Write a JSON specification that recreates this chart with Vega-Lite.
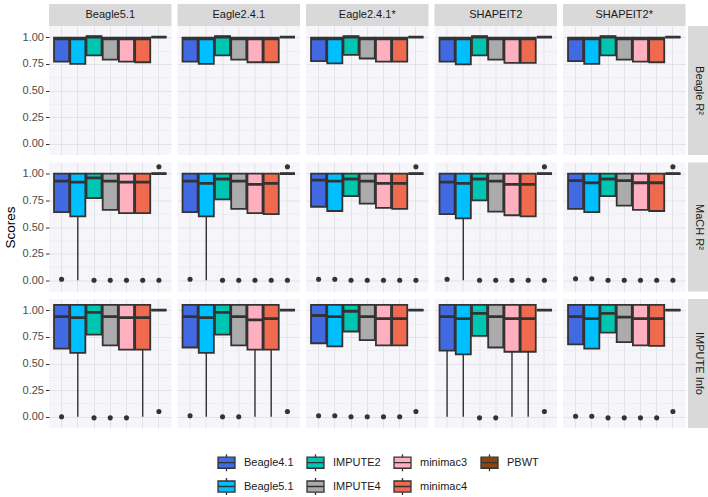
{
"$schema":"https://vega.github.io/schema/vega-lite/v6.json",
"padding":{"left":3,"top":4,"right":1,"bottom":2},
"background":"white",
"data":{"values":[
{"phasing":"Beagle5.1","metric":"Beagle R²","tool":"Beagle4.1","lo":0.77,"q1":0.77,"med":0.985,"q3":0.995,"hi":0.995},
{"phasing":"Beagle5.1","metric":"Beagle R²","tool":"Beagle5.1","lo":0.75,"q1":0.75,"med":0.985,"q3":0.995,"hi":0.995},
{"phasing":"Beagle5.1","metric":"Beagle R²","tool":"IMPUTE2","lo":0.83,"q1":0.83,"med":1.0,"q3":1.01,"hi":1.01},
{"phasing":"Beagle5.1","metric":"Beagle R²","tool":"IMPUTE4","lo":0.79,"q1":0.79,"med":0.985,"q3":0.995,"hi":0.995},
{"phasing":"Beagle5.1","metric":"Beagle R²","tool":"minimac3","lo":0.77,"q1":0.77,"med":0.985,"q3":0.995,"hi":0.995},
{"phasing":"Beagle5.1","metric":"Beagle R²","tool":"minimac4","lo":0.765,"q1":0.765,"med":0.985,"q3":0.995,"hi":0.995},
{"phasing":"Beagle5.1","metric":"Beagle R²","tool":"PBWT","lo":1,"q1":1,"med":1,"q3":1,"hi":1},
{"phasing":"Eagle2.4.1","metric":"Beagle R²","tool":"Beagle4.1","lo":0.77,"q1":0.77,"med":0.985,"q3":0.995,"hi":0.995},
{"phasing":"Eagle2.4.1","metric":"Beagle R²","tool":"Beagle5.1","lo":0.75,"q1":0.75,"med":0.985,"q3":0.995,"hi":0.995},
{"phasing":"Eagle2.4.1","metric":"Beagle R²","tool":"IMPUTE2","lo":0.83,"q1":0.83,"med":1.0,"q3":1.01,"hi":1.01},
{"phasing":"Eagle2.4.1","metric":"Beagle R²","tool":"IMPUTE4","lo":0.79,"q1":0.79,"med":0.985,"q3":0.995,"hi":0.995},
{"phasing":"Eagle2.4.1","metric":"Beagle R²","tool":"minimac3","lo":0.765,"q1":0.765,"med":0.985,"q3":0.995,"hi":0.995},
{"phasing":"Eagle2.4.1","metric":"Beagle R²","tool":"minimac4","lo":0.765,"q1":0.765,"med":0.985,"q3":0.995,"hi":0.995},
{"phasing":"Eagle2.4.1","metric":"Beagle R²","tool":"PBWT","lo":1,"q1":1,"med":1,"q3":1,"hi":1},
{"phasing":"Eagle2.4.1*","metric":"Beagle R²","tool":"Beagle4.1","lo":0.775,"q1":0.775,"med":0.985,"q3":0.995,"hi":0.995},
{"phasing":"Eagle2.4.1*","metric":"Beagle R²","tool":"Beagle5.1","lo":0.755,"q1":0.755,"med":0.985,"q3":0.995,"hi":0.995},
{"phasing":"Eagle2.4.1*","metric":"Beagle R²","tool":"IMPUTE2","lo":0.835,"q1":0.835,"med":1.0,"q3":1.01,"hi":1.01},
{"phasing":"Eagle2.4.1*","metric":"Beagle R²","tool":"IMPUTE4","lo":0.8,"q1":0.8,"med":0.985,"q3":0.995,"hi":0.995},
{"phasing":"Eagle2.4.1*","metric":"Beagle R²","tool":"minimac3","lo":0.77,"q1":0.77,"med":0.985,"q3":0.995,"hi":0.995},
{"phasing":"Eagle2.4.1*","metric":"Beagle R²","tool":"minimac4","lo":0.77,"q1":0.77,"med":0.985,"q3":0.995,"hi":0.995},
{"phasing":"Eagle2.4.1*","metric":"Beagle R²","tool":"PBWT","lo":1,"q1":1,"med":1,"q3":1,"hi":1},
{"phasing":"SHAPEIT2","metric":"Beagle R²","tool":"Beagle4.1","lo":0.77,"q1":0.77,"med":0.985,"q3":0.995,"hi":0.995},
{"phasing":"SHAPEIT2","metric":"Beagle R²","tool":"Beagle5.1","lo":0.745,"q1":0.745,"med":0.985,"q3":0.995,"hi":0.995},
{"phasing":"SHAPEIT2","metric":"Beagle R²","tool":"IMPUTE2","lo":0.83,"q1":0.83,"med":1.0,"q3":1.01,"hi":1.01},
{"phasing":"SHAPEIT2","metric":"Beagle R²","tool":"IMPUTE4","lo":0.79,"q1":0.79,"med":0.985,"q3":0.995,"hi":0.995},
{"phasing":"SHAPEIT2","metric":"Beagle R²","tool":"minimac3","lo":0.76,"q1":0.76,"med":0.985,"q3":0.995,"hi":0.995},
{"phasing":"SHAPEIT2","metric":"Beagle R²","tool":"minimac4","lo":0.76,"q1":0.76,"med":0.985,"q3":0.995,"hi":0.995},
{"phasing":"SHAPEIT2","metric":"Beagle R²","tool":"PBWT","lo":1,"q1":1,"med":1,"q3":1,"hi":1},
{"phasing":"SHAPEIT2*","metric":"Beagle R²","tool":"Beagle4.1","lo":0.775,"q1":0.775,"med":0.985,"q3":0.995,"hi":0.995},
{"phasing":"SHAPEIT2*","metric":"Beagle R²","tool":"Beagle5.1","lo":0.75,"q1":0.75,"med":0.985,"q3":0.995,"hi":0.995},
{"phasing":"SHAPEIT2*","metric":"Beagle R²","tool":"IMPUTE2","lo":0.83,"q1":0.83,"med":1.0,"q3":1.01,"hi":1.01},
{"phasing":"SHAPEIT2*","metric":"Beagle R²","tool":"IMPUTE4","lo":0.79,"q1":0.79,"med":0.985,"q3":0.995,"hi":0.995},
{"phasing":"SHAPEIT2*","metric":"Beagle R²","tool":"minimac3","lo":0.77,"q1":0.77,"med":0.985,"q3":0.995,"hi":0.995},
{"phasing":"SHAPEIT2*","metric":"Beagle R²","tool":"minimac4","lo":0.765,"q1":0.765,"med":0.985,"q3":0.995,"hi":0.995},
{"phasing":"SHAPEIT2*","metric":"Beagle R²","tool":"PBWT","lo":1,"q1":1,"med":1,"q3":1,"hi":1},
{"phasing":"Beagle5.1","metric":"MaCH R²","tool":"Beagle4.1","lo":0.64,"q1":0.64,"med":0.93,"q3":1,"hi":1},
{"phasing":"Beagle5.1","metric":"MaCH R²","tool":"Beagle5.1","lo":0,"q1":0.6,"med":0.92,"q3":1,"hi":1},
{"phasing":"Beagle5.1","metric":"MaCH R²","tool":"IMPUTE2","lo":0.77,"q1":0.77,"med":0.96,"q3":1,"hi":1},
{"phasing":"Beagle5.1","metric":"MaCH R²","tool":"IMPUTE4","lo":0.66,"q1":0.66,"med":0.93,"q3":1,"hi":1},
{"phasing":"Beagle5.1","metric":"MaCH R²","tool":"minimac3","lo":0.63,"q1":0.63,"med":0.92,"q3":1,"hi":1},
{"phasing":"Beagle5.1","metric":"MaCH R²","tool":"minimac4","lo":0.63,"q1":0.63,"med":0.92,"q3":1,"hi":1},
{"phasing":"Beagle5.1","metric":"MaCH R²","tool":"PBWT","lo":1,"q1":1,"med":1,"q3":1,"hi":1},
{"phasing":"Eagle2.4.1","metric":"MaCH R²","tool":"Beagle4.1","lo":0.64,"q1":0.64,"med":0.93,"q3":1,"hi":1},
{"phasing":"Eagle2.4.1","metric":"MaCH R²","tool":"Beagle5.1","lo":0,"q1":0.6,"med":0.91,"q3":1,"hi":1},
{"phasing":"Eagle2.4.1","metric":"MaCH R²","tool":"IMPUTE2","lo":0.76,"q1":0.76,"med":0.95,"q3":1,"hi":1},
{"phasing":"Eagle2.4.1","metric":"MaCH R²","tool":"IMPUTE4","lo":0.67,"q1":0.67,"med":0.93,"q3":1,"hi":1},
{"phasing":"Eagle2.4.1","metric":"MaCH R²","tool":"minimac3","lo":0.63,"q1":0.63,"med":0.9,"q3":1,"hi":1},
{"phasing":"Eagle2.4.1","metric":"MaCH R²","tool":"minimac4","lo":0.62,"q1":0.62,"med":0.91,"q3":1,"hi":1},
{"phasing":"Eagle2.4.1","metric":"MaCH R²","tool":"PBWT","lo":1,"q1":1,"med":1,"q3":1,"hi":1},
{"phasing":"Eagle2.4.1*","metric":"MaCH R²","tool":"Beagle4.1","lo":0.69,"q1":0.69,"med":0.94,"q3":1,"hi":1},
{"phasing":"Eagle2.4.1*","metric":"MaCH R²","tool":"Beagle5.1","lo":0.65,"q1":0.65,"med":0.93,"q3":1,"hi":1},
{"phasing":"Eagle2.4.1*","metric":"MaCH R²","tool":"IMPUTE2","lo":0.79,"q1":0.79,"med":0.95,"q3":1,"hi":1},
{"phasing":"Eagle2.4.1*","metric":"MaCH R²","tool":"IMPUTE4","lo":0.72,"q1":0.72,"med":0.93,"q3":1,"hi":1},
{"phasing":"Eagle2.4.1*","metric":"MaCH R²","tool":"minimac3","lo":0.68,"q1":0.68,"med":0.91,"q3":1,"hi":1},
{"phasing":"Eagle2.4.1*","metric":"MaCH R²","tool":"minimac4","lo":0.67,"q1":0.67,"med":0.91,"q3":1,"hi":1},
{"phasing":"Eagle2.4.1*","metric":"MaCH R²","tool":"PBWT","lo":1,"q1":1,"med":1,"q3":1,"hi":1},
{"phasing":"SHAPEIT2","metric":"MaCH R²","tool":"Beagle4.1","lo":0.62,"q1":0.62,"med":0.92,"q3":1,"hi":1},
{"phasing":"SHAPEIT2","metric":"MaCH R²","tool":"Beagle5.1","lo":0,"q1":0.58,"med":0.91,"q3":1,"hi":1},
{"phasing":"SHAPEIT2","metric":"MaCH R²","tool":"IMPUTE2","lo":0.75,"q1":0.75,"med":0.95,"q3":1,"hi":1},
{"phasing":"SHAPEIT2","metric":"MaCH R²","tool":"IMPUTE4","lo":0.645,"q1":0.645,"med":0.93,"q3":1,"hi":1},
{"phasing":"SHAPEIT2","metric":"MaCH R²","tool":"minimac3","lo":0.61,"q1":0.61,"med":0.9,"q3":1,"hi":1},
{"phasing":"SHAPEIT2","metric":"MaCH R²","tool":"minimac4","lo":0.6,"q1":0.6,"med":0.9,"q3":1,"hi":1},
{"phasing":"SHAPEIT2","metric":"MaCH R²","tool":"PBWT","lo":1,"q1":1,"med":1,"q3":1,"hi":1},
{"phasing":"SHAPEIT2*","metric":"MaCH R²","tool":"Beagle4.1","lo":0.67,"q1":0.67,"med":0.935,"q3":1,"hi":1},
{"phasing":"SHAPEIT2*","metric":"MaCH R²","tool":"Beagle5.1","lo":0.64,"q1":0.64,"med":0.915,"q3":1,"hi":1},
{"phasing":"SHAPEIT2*","metric":"MaCH R²","tool":"IMPUTE2","lo":0.79,"q1":0.79,"med":0.95,"q3":1,"hi":1},
{"phasing":"SHAPEIT2*","metric":"MaCH R²","tool":"IMPUTE4","lo":0.7,"q1":0.7,"med":0.935,"q3":1,"hi":1},
{"phasing":"SHAPEIT2*","metric":"MaCH R²","tool":"minimac3","lo":0.66,"q1":0.66,"med":0.915,"q3":1,"hi":1},
{"phasing":"SHAPEIT2*","metric":"MaCH R²","tool":"minimac4","lo":0.65,"q1":0.65,"med":0.915,"q3":1,"hi":1},
{"phasing":"SHAPEIT2*","metric":"MaCH R²","tool":"PBWT","lo":1,"q1":1,"med":1,"q3":1,"hi":1},
{"phasing":"Beagle5.1","metric":"IMPUTE Info","tool":"Beagle4.1","lo":0.64,"q1":0.64,"med":0.94,"q3":1.05,"hi":1.05},
{"phasing":"Beagle5.1","metric":"IMPUTE Info","tool":"Beagle5.1","lo":0,"q1":0.6,"med":0.93,"q3":1.05,"hi":1.05},
{"phasing":"Beagle5.1","metric":"IMPUTE Info","tool":"IMPUTE2","lo":0.77,"q1":0.77,"med":0.98,"q3":1.05,"hi":1.05},
{"phasing":"Beagle5.1","metric":"IMPUTE Info","tool":"IMPUTE4","lo":0.67,"q1":0.67,"med":0.94,"q3":1.05,"hi":1.05},
{"phasing":"Beagle5.1","metric":"IMPUTE Info","tool":"minimac3","lo":0.63,"q1":0.63,"med":0.93,"q3":1.05,"hi":1.05},
{"phasing":"Beagle5.1","metric":"IMPUTE Info","tool":"minimac4","lo":0,"q1":0.63,"med":0.93,"q3":1.05,"hi":1.05},
{"phasing":"Beagle5.1","metric":"IMPUTE Info","tool":"PBWT","lo":1,"q1":1,"med":1,"q3":1,"hi":1},
{"phasing":"Eagle2.4.1","metric":"IMPUTE Info","tool":"Beagle4.1","lo":0.65,"q1":0.65,"med":0.94,"q3":1.05,"hi":1.05},
{"phasing":"Eagle2.4.1","metric":"IMPUTE Info","tool":"Beagle5.1","lo":0,"q1":0.6,"med":0.93,"q3":1.05,"hi":1.05},
{"phasing":"Eagle2.4.1","metric":"IMPUTE Info","tool":"IMPUTE2","lo":0.77,"q1":0.77,"med":0.98,"q3":1.05,"hi":1.05},
{"phasing":"Eagle2.4.1","metric":"IMPUTE Info","tool":"IMPUTE4","lo":0.67,"q1":0.67,"med":0.94,"q3":1.05,"hi":1.05},
{"phasing":"Eagle2.4.1","metric":"IMPUTE Info","tool":"minimac3","lo":0,"q1":0.63,"med":0.91,"q3":1.05,"hi":1.05},
{"phasing":"Eagle2.4.1","metric":"IMPUTE Info","tool":"minimac4","lo":0,"q1":0.63,"med":0.92,"q3":1.05,"hi":1.05},
{"phasing":"Eagle2.4.1","metric":"IMPUTE Info","tool":"PBWT","lo":1,"q1":1,"med":1,"q3":1,"hi":1},
{"phasing":"Eagle2.4.1*","metric":"IMPUTE Info","tool":"Beagle4.1","lo":0.69,"q1":0.69,"med":0.95,"q3":1.05,"hi":1.05},
{"phasing":"Eagle2.4.1*","metric":"IMPUTE Info","tool":"Beagle5.1","lo":0.66,"q1":0.66,"med":0.94,"q3":1.05,"hi":1.05},
{"phasing":"Eagle2.4.1*","metric":"IMPUTE Info","tool":"IMPUTE2","lo":0.8,"q1":0.8,"med":0.99,"q3":1.05,"hi":1.05},
{"phasing":"Eagle2.4.1*","metric":"IMPUTE Info","tool":"IMPUTE4","lo":0.72,"q1":0.72,"med":0.94,"q3":1.05,"hi":1.05},
{"phasing":"Eagle2.4.1*","metric":"IMPUTE Info","tool":"minimac3","lo":0.67,"q1":0.67,"med":0.92,"q3":1.05,"hi":1.05},
{"phasing":"Eagle2.4.1*","metric":"IMPUTE Info","tool":"minimac4","lo":0.67,"q1":0.67,"med":0.92,"q3":1.05,"hi":1.05},
{"phasing":"Eagle2.4.1*","metric":"IMPUTE Info","tool":"PBWT","lo":1,"q1":1,"med":1,"q3":1,"hi":1},
{"phasing":"SHAPEIT2","metric":"IMPUTE Info","tool":"Beagle4.1","lo":0,"q1":0.62,"med":0.94,"q3":1.05,"hi":1.05},
{"phasing":"SHAPEIT2","metric":"IMPUTE Info","tool":"Beagle5.1","lo":0,"q1":0.585,"med":0.92,"q3":1.05,"hi":1.05},
{"phasing":"SHAPEIT2","metric":"IMPUTE Info","tool":"IMPUTE2","lo":0.76,"q1":0.76,"med":0.97,"q3":1.05,"hi":1.05},
{"phasing":"SHAPEIT2","metric":"IMPUTE Info","tool":"IMPUTE4","lo":0.65,"q1":0.65,"med":0.94,"q3":1.05,"hi":1.05},
{"phasing":"SHAPEIT2","metric":"IMPUTE Info","tool":"minimac3","lo":0,"q1":0.61,"med":0.92,"q3":1.05,"hi":1.05},
{"phasing":"SHAPEIT2","metric":"IMPUTE Info","tool":"minimac4","lo":0,"q1":0.61,"med":0.92,"q3":1.05,"hi":1.05},
{"phasing":"SHAPEIT2","metric":"IMPUTE Info","tool":"PBWT","lo":1,"q1":1,"med":1,"q3":1,"hi":1},
{"phasing":"SHAPEIT2*","metric":"IMPUTE Info","tool":"Beagle4.1","lo":0.68,"q1":0.68,"med":0.94,"q3":1.05,"hi":1.05},
{"phasing":"SHAPEIT2*","metric":"IMPUTE Info","tool":"Beagle5.1","lo":0.64,"q1":0.64,"med":0.92,"q3":1.05,"hi":1.05},
{"phasing":"SHAPEIT2*","metric":"IMPUTE Info","tool":"IMPUTE2","lo":0.79,"q1":0.79,"med":0.97,"q3":1.05,"hi":1.05},
{"phasing":"SHAPEIT2*","metric":"IMPUTE Info","tool":"IMPUTE4","lo":0.7,"q1":0.7,"med":0.935,"q3":1.05,"hi":1.05},
{"phasing":"SHAPEIT2*","metric":"IMPUTE Info","tool":"minimac3","lo":0.67,"q1":0.67,"med":0.92,"q3":1.05,"hi":1.05},
{"phasing":"SHAPEIT2*","metric":"IMPUTE Info","tool":"minimac4","lo":0.665,"q1":0.665,"med":0.92,"q3":1.05,"hi":1.05},
{"phasing":"SHAPEIT2*","metric":"IMPUTE Info","tool":"PBWT","lo":1,"q1":1,"med":1,"q3":1,"hi":1},
{"phasing":"Beagle5.1","metric":"MaCH R²","tool":"Beagle4.1","out":0.01},
{"phasing":"Beagle5.1","metric":"MaCH R²","tool":"IMPUTE2","out":0},
{"phasing":"Beagle5.1","metric":"MaCH R²","tool":"IMPUTE4","out":0},
{"phasing":"Beagle5.1","metric":"MaCH R²","tool":"minimac3","out":0},
{"phasing":"Beagle5.1","metric":"MaCH R²","tool":"minimac4","out":0},
{"phasing":"Beagle5.1","metric":"MaCH R²","tool":"PBWT","out":1.065},
{"phasing":"Beagle5.1","metric":"MaCH R²","tool":"PBWT","out":0},
{"phasing":"Eagle2.4.1","metric":"MaCH R²","tool":"Beagle4.1","out":0.01},
{"phasing":"Eagle2.4.1","metric":"MaCH R²","tool":"IMPUTE2","out":0},
{"phasing":"Eagle2.4.1","metric":"MaCH R²","tool":"IMPUTE4","out":0},
{"phasing":"Eagle2.4.1","metric":"MaCH R²","tool":"minimac3","out":0},
{"phasing":"Eagle2.4.1","metric":"MaCH R²","tool":"minimac4","out":0},
{"phasing":"Eagle2.4.1","metric":"MaCH R²","tool":"PBWT","out":1.065},
{"phasing":"Eagle2.4.1","metric":"MaCH R²","tool":"PBWT","out":0},
{"phasing":"Eagle2.4.1*","metric":"MaCH R²","tool":"Beagle4.1","out":0.01},
{"phasing":"Eagle2.4.1*","metric":"MaCH R²","tool":"Beagle5.1","out":0.01},
{"phasing":"Eagle2.4.1*","metric":"MaCH R²","tool":"IMPUTE2","out":0},
{"phasing":"Eagle2.4.1*","metric":"MaCH R²","tool":"IMPUTE4","out":0},
{"phasing":"Eagle2.4.1*","metric":"MaCH R²","tool":"minimac3","out":0},
{"phasing":"Eagle2.4.1*","metric":"MaCH R²","tool":"minimac4","out":0},
{"phasing":"Eagle2.4.1*","metric":"MaCH R²","tool":"PBWT","out":1.065},
{"phasing":"Eagle2.4.1*","metric":"MaCH R²","tool":"PBWT","out":0},
{"phasing":"SHAPEIT2","metric":"MaCH R²","tool":"Beagle4.1","out":0.01},
{"phasing":"SHAPEIT2","metric":"MaCH R²","tool":"IMPUTE2","out":0},
{"phasing":"SHAPEIT2","metric":"MaCH R²","tool":"IMPUTE4","out":0},
{"phasing":"SHAPEIT2","metric":"MaCH R²","tool":"minimac3","out":0},
{"phasing":"SHAPEIT2","metric":"MaCH R²","tool":"minimac4","out":0},
{"phasing":"SHAPEIT2","metric":"MaCH R²","tool":"PBWT","out":1.065},
{"phasing":"SHAPEIT2","metric":"MaCH R²","tool":"PBWT","out":0},
{"phasing":"SHAPEIT2*","metric":"MaCH R²","tool":"Beagle4.1","out":0.015},
{"phasing":"SHAPEIT2*","metric":"MaCH R²","tool":"Beagle5.1","out":0.015},
{"phasing":"SHAPEIT2*","metric":"MaCH R²","tool":"IMPUTE2","out":0},
{"phasing":"SHAPEIT2*","metric":"MaCH R²","tool":"IMPUTE4","out":0},
{"phasing":"SHAPEIT2*","metric":"MaCH R²","tool":"minimac3","out":0},
{"phasing":"SHAPEIT2*","metric":"MaCH R²","tool":"minimac4","out":0},
{"phasing":"SHAPEIT2*","metric":"MaCH R²","tool":"PBWT","out":1.065},
{"phasing":"SHAPEIT2*","metric":"MaCH R²","tool":"PBWT","out":0},
{"phasing":"Beagle5.1","metric":"IMPUTE Info","tool":"Beagle4.1","out":0},
{"phasing":"Beagle5.1","metric":"IMPUTE Info","tool":"IMPUTE2","out":-0.01},
{"phasing":"Beagle5.1","metric":"IMPUTE Info","tool":"IMPUTE4","out":-0.01},
{"phasing":"Beagle5.1","metric":"IMPUTE Info","tool":"minimac3","out":-0.01},
{"phasing":"Beagle5.1","metric":"IMPUTE Info","tool":"PBWT","out":0.05},
{"phasing":"Eagle2.4.1","metric":"IMPUTE Info","tool":"Beagle4.1","out":0.01},
{"phasing":"Eagle2.4.1","metric":"IMPUTE Info","tool":"IMPUTE2","out":0},
{"phasing":"Eagle2.4.1","metric":"IMPUTE Info","tool":"IMPUTE4","out":0},
{"phasing":"Eagle2.4.1","metric":"IMPUTE Info","tool":"PBWT","out":0.05},
{"phasing":"Eagle2.4.1*","metric":"IMPUTE Info","tool":"Beagle4.1","out":0.01},
{"phasing":"Eagle2.4.1*","metric":"IMPUTE Info","tool":"Beagle5.1","out":0.01},
{"phasing":"Eagle2.4.1*","metric":"IMPUTE Info","tool":"IMPUTE2","out":0},
{"phasing":"Eagle2.4.1*","metric":"IMPUTE Info","tool":"IMPUTE4","out":0},
{"phasing":"Eagle2.4.1*","metric":"IMPUTE Info","tool":"minimac3","out":0},
{"phasing":"Eagle2.4.1*","metric":"IMPUTE Info","tool":"minimac4","out":0},
{"phasing":"Eagle2.4.1*","metric":"IMPUTE Info","tool":"PBWT","out":0.05},
{"phasing":"SHAPEIT2","metric":"IMPUTE Info","tool":"IMPUTE2","out":-0.01},
{"phasing":"SHAPEIT2","metric":"IMPUTE Info","tool":"IMPUTE4","out":-0.01},
{"phasing":"SHAPEIT2","metric":"IMPUTE Info","tool":"PBWT","out":0.05},
{"phasing":"SHAPEIT2*","metric":"IMPUTE Info","tool":"Beagle4.1","out":0.005},
{"phasing":"SHAPEIT2*","metric":"IMPUTE Info","tool":"Beagle5.1","out":0.005},
{"phasing":"SHAPEIT2*","metric":"IMPUTE Info","tool":"IMPUTE2","out":-0.01},
{"phasing":"SHAPEIT2*","metric":"IMPUTE Info","tool":"IMPUTE4","out":-0.01},
{"phasing":"SHAPEIT2*","metric":"IMPUTE Info","tool":"minimac3","out":-0.01},
{"phasing":"SHAPEIT2*","metric":"IMPUTE Info","tool":"minimac4","out":-0.01},
{"phasing":"SHAPEIT2*","metric":"IMPUTE Info","tool":"PBWT","out":0.05}
]},
"spacing":0,
"vconcat":[
{"spacing":5.5,"hconcat":[
{"width":122.5,"height":22,"view":{"fill":"#D9D9D9","stroke":null},"data":{"values":[{"label":"Beagle5.1"}]},"mark":{"type":"text","font":"Liberation Sans","fontSize":11,"color":"#1A1A1A"},"encoding":{"text":{"field":"label"},"y":{"datum":0.5,"type":"quantitative","scale":{"domain":[0,1]},"axis":{"values":[0.5],"format":".2f","labelOpacity":0,"tickOpacity":0,"grid":false,"title":"S","titleOpacity":0}}}},
{"width":122.5,"height":22,"view":{"fill":"#D9D9D9","stroke":null},"data":{"values":[{"label":"Eagle2.4.1"}]},"mark":{"type":"text","font":"Liberation Sans","fontSize":11,"color":"#1A1A1A"},"encoding":{"text":{"field":"label"}}},
{"width":122.5,"height":22,"view":{"fill":"#D9D9D9","stroke":null},"data":{"values":[{"label":"Eagle2.4.1*"}]},"mark":{"type":"text","font":"Liberation Sans","fontSize":11,"color":"#1A1A1A"},"encoding":{"text":{"field":"label"}}},
{"width":122.5,"height":22,"view":{"fill":"#D9D9D9","stroke":null},"data":{"values":[{"label":"SHAPEIT2"}]},"mark":{"type":"text","font":"Liberation Sans","fontSize":11,"color":"#1A1A1A"},"encoding":{"text":{"field":"label"}}},
{"width":122.5,"height":22,"view":{"fill":"#D9D9D9","stroke":null},"data":{"values":[{"label":"SHAPEIT2*"}]},"mark":{"type":"text","font":"Liberation Sans","fontSize":11,"color":"#1A1A1A"},"encoding":{"text":{"field":"label"}}}
]},
{"spacing":2,"hconcat":[
{"spacing":7.5,"vconcat":[
{"spacing":5.5,"hconcat":[
{"width":122.5,"height":129,"transform":[{"filter":"datum.phasing=='Beagle5.1'&&datum.metric=='Beagle R²'"}],"encoding":{"x":{"field":"tool","type":"nominal","title":null,"scale":{"domain":["Beagle4.1","Beagle5.1","IMPUTE2","IMPUTE4","minimac3","minimac4","PBWT"],"paddingInner":0.07,"paddingOuter":0.31},"axis":{"labels":false,"ticks":false,"grid":true,"bandPosition":0.5}}},"layer":[
{"mark":{"type":"rule","color":"#333333","strokeWidth":1.4},"encoding":{"y":{"field":"lo","type":"quantitative","scale":{"domain":[-0.105,1.105],"nice":false},"axis":{"values":[0,0.125,0.25,0.375,0.5,0.625,0.75,0.875,1],"tickCount":20,"labelOverlap":false,"title":"Scores","titleOpacity":0,"labelExpr":"datum.value*8%2==0?format(datum.value,'.2f'):''","gridColor":{"condition":{"test":"datum.value*8%2==0","value":"#E0E0E6"},"value":"#ECECF1"},"tickOpacity":{"condition":{"test":"datum.value*8%2==0","value":1},"value":0}}},"y2":{"field":"hi"}}},
{"mark":{"type":"bar","stroke":"#333333","strokeWidth":1.8},"encoding":{"y":{"field":"q1","type":"quantitative","scale":{"domain":[-0.105,1.105],"nice":false}},"y2":{"field":"q3"},"color":{"field":"tool","type":"nominal","scale":{"domain":["Beagle4.1","Beagle5.1","IMPUTE2","IMPUTE4","minimac3","minimac4","PBWT"],"range":["#4169E1","#00BFFF","#00C5B0","#ABABAB","#FFB0BE","#F06A50","#8B4513"]},"legend":{"title":null,"orient":"none","direction":"vertical","legendX":168,"legendY":449,"columns":4}}}},
{"mark":{"type":"bar","fillOpacity":0,"stroke":"#333333","strokeWidth":2.8},"encoding":{"y":{"field":"med","type":"quantitative","scale":{"domain":[-0.105,1.105],"nice":false}},"y2":{"field":"med"}}},
{"mark":{"type":"circle","color":"#333333","opacity":1,"size":26},"encoding":{"y":{"field":"out","type":"quantitative","scale":{"domain":[-0.105,1.105],"nice":false}}}}
]},
{"width":122.5,"height":129,"transform":[{"filter":"datum.phasing=='Eagle2.4.1'&&datum.metric=='Beagle R²'"}],"encoding":{"x":{"field":"tool","type":"nominal","title":null,"scale":{"domain":["Beagle4.1","Beagle5.1","IMPUTE2","IMPUTE4","minimac3","minimac4","PBWT"],"paddingInner":0.07,"paddingOuter":0.31},"axis":{"labels":false,"ticks":false,"grid":true,"bandPosition":0.5}}},"layer":[
{"mark":{"type":"rule","color":"#333333","strokeWidth":1.4},"encoding":{"y":{"field":"lo","type":"quantitative","scale":{"domain":[-0.105,1.105],"nice":false},"axis":{"values":[0,0.125,0.25,0.375,0.5,0.625,0.75,0.875,1],"tickCount":20,"labels":false,"ticks":false,"title":null,"gridColor":{"condition":{"test":"datum.value*8%2==0","value":"#E0E0E6"},"value":"#ECECF1"}}},"y2":{"field":"hi"}}},
{"mark":{"type":"bar","stroke":"#333333","strokeWidth":1.8},"encoding":{"y":{"field":"q1","type":"quantitative","scale":{"domain":[-0.105,1.105],"nice":false}},"y2":{"field":"q3"},"color":{"field":"tool","type":"nominal","scale":{"domain":["Beagle4.1","Beagle5.1","IMPUTE2","IMPUTE4","minimac3","minimac4","PBWT"],"range":["#4169E1","#00BFFF","#00C5B0","#ABABAB","#FFB0BE","#F06A50","#8B4513"]},"legend":null}}},
{"mark":{"type":"bar","fillOpacity":0,"stroke":"#333333","strokeWidth":2.8},"encoding":{"y":{"field":"med","type":"quantitative","scale":{"domain":[-0.105,1.105],"nice":false}},"y2":{"field":"med"}}},
{"mark":{"type":"circle","color":"#333333","opacity":1,"size":26},"encoding":{"y":{"field":"out","type":"quantitative","scale":{"domain":[-0.105,1.105],"nice":false}}}}
]},
{"width":122.5,"height":129,"transform":[{"filter":"datum.phasing=='Eagle2.4.1*'&&datum.metric=='Beagle R²'"}],"encoding":{"x":{"field":"tool","type":"nominal","title":null,"scale":{"domain":["Beagle4.1","Beagle5.1","IMPUTE2","IMPUTE4","minimac3","minimac4","PBWT"],"paddingInner":0.07,"paddingOuter":0.31},"axis":{"labels":false,"ticks":false,"grid":true,"bandPosition":0.5}}},"layer":[
{"mark":{"type":"rule","color":"#333333","strokeWidth":1.4},"encoding":{"y":{"field":"lo","type":"quantitative","scale":{"domain":[-0.105,1.105],"nice":false},"axis":{"values":[0,0.125,0.25,0.375,0.5,0.625,0.75,0.875,1],"tickCount":20,"labels":false,"ticks":false,"title":null,"gridColor":{"condition":{"test":"datum.value*8%2==0","value":"#E0E0E6"},"value":"#ECECF1"}}},"y2":{"field":"hi"}}},
{"mark":{"type":"bar","stroke":"#333333","strokeWidth":1.8},"encoding":{"y":{"field":"q1","type":"quantitative","scale":{"domain":[-0.105,1.105],"nice":false}},"y2":{"field":"q3"},"color":{"field":"tool","type":"nominal","scale":{"domain":["Beagle4.1","Beagle5.1","IMPUTE2","IMPUTE4","minimac3","minimac4","PBWT"],"range":["#4169E1","#00BFFF","#00C5B0","#ABABAB","#FFB0BE","#F06A50","#8B4513"]},"legend":null}}},
{"mark":{"type":"bar","fillOpacity":0,"stroke":"#333333","strokeWidth":2.8},"encoding":{"y":{"field":"med","type":"quantitative","scale":{"domain":[-0.105,1.105],"nice":false}},"y2":{"field":"med"}}},
{"mark":{"type":"circle","color":"#333333","opacity":1,"size":26},"encoding":{"y":{"field":"out","type":"quantitative","scale":{"domain":[-0.105,1.105],"nice":false}}}}
]},
{"width":122.5,"height":129,"transform":[{"filter":"datum.phasing=='SHAPEIT2'&&datum.metric=='Beagle R²'"}],"encoding":{"x":{"field":"tool","type":"nominal","title":null,"scale":{"domain":["Beagle4.1","Beagle5.1","IMPUTE2","IMPUTE4","minimac3","minimac4","PBWT"],"paddingInner":0.07,"paddingOuter":0.31},"axis":{"labels":false,"ticks":false,"grid":true,"bandPosition":0.5}}},"layer":[
{"mark":{"type":"rule","color":"#333333","strokeWidth":1.4},"encoding":{"y":{"field":"lo","type":"quantitative","scale":{"domain":[-0.105,1.105],"nice":false},"axis":{"values":[0,0.125,0.25,0.375,0.5,0.625,0.75,0.875,1],"tickCount":20,"labels":false,"ticks":false,"title":null,"gridColor":{"condition":{"test":"datum.value*8%2==0","value":"#E0E0E6"},"value":"#ECECF1"}}},"y2":{"field":"hi"}}},
{"mark":{"type":"bar","stroke":"#333333","strokeWidth":1.8},"encoding":{"y":{"field":"q1","type":"quantitative","scale":{"domain":[-0.105,1.105],"nice":false}},"y2":{"field":"q3"},"color":{"field":"tool","type":"nominal","scale":{"domain":["Beagle4.1","Beagle5.1","IMPUTE2","IMPUTE4","minimac3","minimac4","PBWT"],"range":["#4169E1","#00BFFF","#00C5B0","#ABABAB","#FFB0BE","#F06A50","#8B4513"]},"legend":null}}},
{"mark":{"type":"bar","fillOpacity":0,"stroke":"#333333","strokeWidth":2.8},"encoding":{"y":{"field":"med","type":"quantitative","scale":{"domain":[-0.105,1.105],"nice":false}},"y2":{"field":"med"}}},
{"mark":{"type":"circle","color":"#333333","opacity":1,"size":26},"encoding":{"y":{"field":"out","type":"quantitative","scale":{"domain":[-0.105,1.105],"nice":false}}}}
]},
{"width":122.5,"height":129,"transform":[{"filter":"datum.phasing=='SHAPEIT2*'&&datum.metric=='Beagle R²'"}],"encoding":{"x":{"field":"tool","type":"nominal","title":null,"scale":{"domain":["Beagle4.1","Beagle5.1","IMPUTE2","IMPUTE4","minimac3","minimac4","PBWT"],"paddingInner":0.07,"paddingOuter":0.31},"axis":{"labels":false,"ticks":false,"grid":true,"bandPosition":0.5}}},"layer":[
{"mark":{"type":"rule","color":"#333333","strokeWidth":1.4},"encoding":{"y":{"field":"lo","type":"quantitative","scale":{"domain":[-0.105,1.105],"nice":false},"axis":{"values":[0,0.125,0.25,0.375,0.5,0.625,0.75,0.875,1],"tickCount":20,"labels":false,"ticks":false,"title":null,"gridColor":{"condition":{"test":"datum.value*8%2==0","value":"#E0E0E6"},"value":"#ECECF1"}}},"y2":{"field":"hi"}}},
{"mark":{"type":"bar","stroke":"#333333","strokeWidth":1.8},"encoding":{"y":{"field":"q1","type":"quantitative","scale":{"domain":[-0.105,1.105],"nice":false}},"y2":{"field":"q3"},"color":{"field":"tool","type":"nominal","scale":{"domain":["Beagle4.1","Beagle5.1","IMPUTE2","IMPUTE4","minimac3","minimac4","PBWT"],"range":["#4169E1","#00BFFF","#00C5B0","#ABABAB","#FFB0BE","#F06A50","#8B4513"]},"legend":null}}},
{"mark":{"type":"bar","fillOpacity":0,"stroke":"#333333","strokeWidth":2.8},"encoding":{"y":{"field":"med","type":"quantitative","scale":{"domain":[-0.105,1.105],"nice":false}},"y2":{"field":"med"}}},
{"mark":{"type":"circle","color":"#333333","opacity":1,"size":26},"encoding":{"y":{"field":"out","type":"quantitative","scale":{"domain":[-0.105,1.105],"nice":false}}}}
]}
]},
{"spacing":5.5,"hconcat":[
{"width":122.5,"height":129,"transform":[{"filter":"datum.phasing=='Beagle5.1'&&datum.metric=='MaCH R²'"}],"encoding":{"x":{"field":"tool","type":"nominal","title":null,"scale":{"domain":["Beagle4.1","Beagle5.1","IMPUTE2","IMPUTE4","minimac3","minimac4","PBWT"],"paddingInner":0.07,"paddingOuter":0.31},"axis":{"labels":false,"ticks":false,"grid":true,"bandPosition":0.5}}},"layer":[
{"mark":{"type":"rule","color":"#333333","strokeWidth":1.4},"encoding":{"y":{"field":"lo","type":"quantitative","scale":{"domain":[-0.105,1.105],"nice":false},"axis":{"values":[0,0.125,0.25,0.375,0.5,0.625,0.75,0.875,1],"tickCount":20,"labelOverlap":false,"title":"Scores","labelExpr":"datum.value*8%2==0?format(datum.value,'.2f'):''","gridColor":{"condition":{"test":"datum.value*8%2==0","value":"#E0E0E6"},"value":"#ECECF1"},"tickOpacity":{"condition":{"test":"datum.value*8%2==0","value":1},"value":0}}},"y2":{"field":"hi"}}},
{"mark":{"type":"bar","stroke":"#333333","strokeWidth":1.8},"encoding":{"y":{"field":"q1","type":"quantitative","scale":{"domain":[-0.105,1.105],"nice":false}},"y2":{"field":"q3"},"color":{"field":"tool","type":"nominal","scale":{"domain":["Beagle4.1","Beagle5.1","IMPUTE2","IMPUTE4","minimac3","minimac4","PBWT"],"range":["#4169E1","#00BFFF","#00C5B0","#ABABAB","#FFB0BE","#F06A50","#8B4513"]},"legend":null}}},
{"mark":{"type":"bar","fillOpacity":0,"stroke":"#333333","strokeWidth":2.8},"encoding":{"y":{"field":"med","type":"quantitative","scale":{"domain":[-0.105,1.105],"nice":false}},"y2":{"field":"med"}}},
{"mark":{"type":"circle","color":"#333333","opacity":1,"size":26},"encoding":{"y":{"field":"out","type":"quantitative","scale":{"domain":[-0.105,1.105],"nice":false}}}}
]},
{"width":122.5,"height":129,"transform":[{"filter":"datum.phasing=='Eagle2.4.1'&&datum.metric=='MaCH R²'"}],"encoding":{"x":{"field":"tool","type":"nominal","title":null,"scale":{"domain":["Beagle4.1","Beagle5.1","IMPUTE2","IMPUTE4","minimac3","minimac4","PBWT"],"paddingInner":0.07,"paddingOuter":0.31},"axis":{"labels":false,"ticks":false,"grid":true,"bandPosition":0.5}}},"layer":[
{"mark":{"type":"rule","color":"#333333","strokeWidth":1.4},"encoding":{"y":{"field":"lo","type":"quantitative","scale":{"domain":[-0.105,1.105],"nice":false},"axis":{"values":[0,0.125,0.25,0.375,0.5,0.625,0.75,0.875,1],"tickCount":20,"labels":false,"ticks":false,"title":null,"gridColor":{"condition":{"test":"datum.value*8%2==0","value":"#E0E0E6"},"value":"#ECECF1"}}},"y2":{"field":"hi"}}},
{"mark":{"type":"bar","stroke":"#333333","strokeWidth":1.8},"encoding":{"y":{"field":"q1","type":"quantitative","scale":{"domain":[-0.105,1.105],"nice":false}},"y2":{"field":"q3"},"color":{"field":"tool","type":"nominal","scale":{"domain":["Beagle4.1","Beagle5.1","IMPUTE2","IMPUTE4","minimac3","minimac4","PBWT"],"range":["#4169E1","#00BFFF","#00C5B0","#ABABAB","#FFB0BE","#F06A50","#8B4513"]},"legend":null}}},
{"mark":{"type":"bar","fillOpacity":0,"stroke":"#333333","strokeWidth":2.8},"encoding":{"y":{"field":"med","type":"quantitative","scale":{"domain":[-0.105,1.105],"nice":false}},"y2":{"field":"med"}}},
{"mark":{"type":"circle","color":"#333333","opacity":1,"size":26},"encoding":{"y":{"field":"out","type":"quantitative","scale":{"domain":[-0.105,1.105],"nice":false}}}}
]},
{"width":122.5,"height":129,"transform":[{"filter":"datum.phasing=='Eagle2.4.1*'&&datum.metric=='MaCH R²'"}],"encoding":{"x":{"field":"tool","type":"nominal","title":null,"scale":{"domain":["Beagle4.1","Beagle5.1","IMPUTE2","IMPUTE4","minimac3","minimac4","PBWT"],"paddingInner":0.07,"paddingOuter":0.31},"axis":{"labels":false,"ticks":false,"grid":true,"bandPosition":0.5}}},"layer":[
{"mark":{"type":"rule","color":"#333333","strokeWidth":1.4},"encoding":{"y":{"field":"lo","type":"quantitative","scale":{"domain":[-0.105,1.105],"nice":false},"axis":{"values":[0,0.125,0.25,0.375,0.5,0.625,0.75,0.875,1],"tickCount":20,"labels":false,"ticks":false,"title":null,"gridColor":{"condition":{"test":"datum.value*8%2==0","value":"#E0E0E6"},"value":"#ECECF1"}}},"y2":{"field":"hi"}}},
{"mark":{"type":"bar","stroke":"#333333","strokeWidth":1.8},"encoding":{"y":{"field":"q1","type":"quantitative","scale":{"domain":[-0.105,1.105],"nice":false}},"y2":{"field":"q3"},"color":{"field":"tool","type":"nominal","scale":{"domain":["Beagle4.1","Beagle5.1","IMPUTE2","IMPUTE4","minimac3","minimac4","PBWT"],"range":["#4169E1","#00BFFF","#00C5B0","#ABABAB","#FFB0BE","#F06A50","#8B4513"]},"legend":null}}},
{"mark":{"type":"bar","fillOpacity":0,"stroke":"#333333","strokeWidth":2.8},"encoding":{"y":{"field":"med","type":"quantitative","scale":{"domain":[-0.105,1.105],"nice":false}},"y2":{"field":"med"}}},
{"mark":{"type":"circle","color":"#333333","opacity":1,"size":26},"encoding":{"y":{"field":"out","type":"quantitative","scale":{"domain":[-0.105,1.105],"nice":false}}}}
]},
{"width":122.5,"height":129,"transform":[{"filter":"datum.phasing=='SHAPEIT2'&&datum.metric=='MaCH R²'"}],"encoding":{"x":{"field":"tool","type":"nominal","title":null,"scale":{"domain":["Beagle4.1","Beagle5.1","IMPUTE2","IMPUTE4","minimac3","minimac4","PBWT"],"paddingInner":0.07,"paddingOuter":0.31},"axis":{"labels":false,"ticks":false,"grid":true,"bandPosition":0.5}}},"layer":[
{"mark":{"type":"rule","color":"#333333","strokeWidth":1.4},"encoding":{"y":{"field":"lo","type":"quantitative","scale":{"domain":[-0.105,1.105],"nice":false},"axis":{"values":[0,0.125,0.25,0.375,0.5,0.625,0.75,0.875,1],"tickCount":20,"labels":false,"ticks":false,"title":null,"gridColor":{"condition":{"test":"datum.value*8%2==0","value":"#E0E0E6"},"value":"#ECECF1"}}},"y2":{"field":"hi"}}},
{"mark":{"type":"bar","stroke":"#333333","strokeWidth":1.8},"encoding":{"y":{"field":"q1","type":"quantitative","scale":{"domain":[-0.105,1.105],"nice":false}},"y2":{"field":"q3"},"color":{"field":"tool","type":"nominal","scale":{"domain":["Beagle4.1","Beagle5.1","IMPUTE2","IMPUTE4","minimac3","minimac4","PBWT"],"range":["#4169E1","#00BFFF","#00C5B0","#ABABAB","#FFB0BE","#F06A50","#8B4513"]},"legend":null}}},
{"mark":{"type":"bar","fillOpacity":0,"stroke":"#333333","strokeWidth":2.8},"encoding":{"y":{"field":"med","type":"quantitative","scale":{"domain":[-0.105,1.105],"nice":false}},"y2":{"field":"med"}}},
{"mark":{"type":"circle","color":"#333333","opacity":1,"size":26},"encoding":{"y":{"field":"out","type":"quantitative","scale":{"domain":[-0.105,1.105],"nice":false}}}}
]},
{"width":122.5,"height":129,"transform":[{"filter":"datum.phasing=='SHAPEIT2*'&&datum.metric=='MaCH R²'"}],"encoding":{"x":{"field":"tool","type":"nominal","title":null,"scale":{"domain":["Beagle4.1","Beagle5.1","IMPUTE2","IMPUTE4","minimac3","minimac4","PBWT"],"paddingInner":0.07,"paddingOuter":0.31},"axis":{"labels":false,"ticks":false,"grid":true,"bandPosition":0.5}}},"layer":[
{"mark":{"type":"rule","color":"#333333","strokeWidth":1.4},"encoding":{"y":{"field":"lo","type":"quantitative","scale":{"domain":[-0.105,1.105],"nice":false},"axis":{"values":[0,0.125,0.25,0.375,0.5,0.625,0.75,0.875,1],"tickCount":20,"labels":false,"ticks":false,"title":null,"gridColor":{"condition":{"test":"datum.value*8%2==0","value":"#E0E0E6"},"value":"#ECECF1"}}},"y2":{"field":"hi"}}},
{"mark":{"type":"bar","stroke":"#333333","strokeWidth":1.8},"encoding":{"y":{"field":"q1","type":"quantitative","scale":{"domain":[-0.105,1.105],"nice":false}},"y2":{"field":"q3"},"color":{"field":"tool","type":"nominal","scale":{"domain":["Beagle4.1","Beagle5.1","IMPUTE2","IMPUTE4","minimac3","minimac4","PBWT"],"range":["#4169E1","#00BFFF","#00C5B0","#ABABAB","#FFB0BE","#F06A50","#8B4513"]},"legend":null}}},
{"mark":{"type":"bar","fillOpacity":0,"stroke":"#333333","strokeWidth":2.8},"encoding":{"y":{"field":"med","type":"quantitative","scale":{"domain":[-0.105,1.105],"nice":false}},"y2":{"field":"med"}}},
{"mark":{"type":"circle","color":"#333333","opacity":1,"size":26},"encoding":{"y":{"field":"out","type":"quantitative","scale":{"domain":[-0.105,1.105],"nice":false}}}}
]}
]},
{"spacing":5.5,"hconcat":[
{"width":122.5,"height":129,"transform":[{"filter":"datum.phasing=='Beagle5.1'&&datum.metric=='IMPUTE Info'"}],"encoding":{"x":{"field":"tool","type":"nominal","title":null,"scale":{"domain":["Beagle4.1","Beagle5.1","IMPUTE2","IMPUTE4","minimac3","minimac4","PBWT"],"paddingInner":0.07,"paddingOuter":0.31},"axis":{"labels":false,"ticks":false,"grid":true,"bandPosition":0.5}}},"layer":[
{"mark":{"type":"rule","color":"#333333","strokeWidth":1.4},"encoding":{"y":{"field":"lo","type":"quantitative","scale":{"domain":[-0.105,1.105],"nice":false},"axis":{"values":[0,0.125,0.25,0.375,0.5,0.625,0.75,0.875,1],"tickCount":20,"labelOverlap":false,"title":"Scores","titleOpacity":0,"labelExpr":"datum.value*8%2==0?format(datum.value,'.2f'):''","gridColor":{"condition":{"test":"datum.value*8%2==0","value":"#E0E0E6"},"value":"#ECECF1"},"tickOpacity":{"condition":{"test":"datum.value*8%2==0","value":1},"value":0}}},"y2":{"field":"hi"}}},
{"mark":{"type":"bar","stroke":"#333333","strokeWidth":1.8},"encoding":{"y":{"field":"q1","type":"quantitative","scale":{"domain":[-0.105,1.105],"nice":false}},"y2":{"field":"q3"},"color":{"field":"tool","type":"nominal","scale":{"domain":["Beagle4.1","Beagle5.1","IMPUTE2","IMPUTE4","minimac3","minimac4","PBWT"],"range":["#4169E1","#00BFFF","#00C5B0","#ABABAB","#FFB0BE","#F06A50","#8B4513"]},"legend":null}}},
{"mark":{"type":"bar","fillOpacity":0,"stroke":"#333333","strokeWidth":2.8},"encoding":{"y":{"field":"med","type":"quantitative","scale":{"domain":[-0.105,1.105],"nice":false}},"y2":{"field":"med"}}},
{"mark":{"type":"circle","color":"#333333","opacity":1,"size":26},"encoding":{"y":{"field":"out","type":"quantitative","scale":{"domain":[-0.105,1.105],"nice":false}}}}
]},
{"width":122.5,"height":129,"transform":[{"filter":"datum.phasing=='Eagle2.4.1'&&datum.metric=='IMPUTE Info'"}],"encoding":{"x":{"field":"tool","type":"nominal","title":null,"scale":{"domain":["Beagle4.1","Beagle5.1","IMPUTE2","IMPUTE4","minimac3","minimac4","PBWT"],"paddingInner":0.07,"paddingOuter":0.31},"axis":{"labels":false,"ticks":false,"grid":true,"bandPosition":0.5}}},"layer":[
{"mark":{"type":"rule","color":"#333333","strokeWidth":1.4},"encoding":{"y":{"field":"lo","type":"quantitative","scale":{"domain":[-0.105,1.105],"nice":false},"axis":{"values":[0,0.125,0.25,0.375,0.5,0.625,0.75,0.875,1],"tickCount":20,"labels":false,"ticks":false,"title":null,"gridColor":{"condition":{"test":"datum.value*8%2==0","value":"#E0E0E6"},"value":"#ECECF1"}}},"y2":{"field":"hi"}}},
{"mark":{"type":"bar","stroke":"#333333","strokeWidth":1.8},"encoding":{"y":{"field":"q1","type":"quantitative","scale":{"domain":[-0.105,1.105],"nice":false}},"y2":{"field":"q3"},"color":{"field":"tool","type":"nominal","scale":{"domain":["Beagle4.1","Beagle5.1","IMPUTE2","IMPUTE4","minimac3","minimac4","PBWT"],"range":["#4169E1","#00BFFF","#00C5B0","#ABABAB","#FFB0BE","#F06A50","#8B4513"]},"legend":null}}},
{"mark":{"type":"bar","fillOpacity":0,"stroke":"#333333","strokeWidth":2.8},"encoding":{"y":{"field":"med","type":"quantitative","scale":{"domain":[-0.105,1.105],"nice":false}},"y2":{"field":"med"}}},
{"mark":{"type":"circle","color":"#333333","opacity":1,"size":26},"encoding":{"y":{"field":"out","type":"quantitative","scale":{"domain":[-0.105,1.105],"nice":false}}}}
]},
{"width":122.5,"height":129,"transform":[{"filter":"datum.phasing=='Eagle2.4.1*'&&datum.metric=='IMPUTE Info'"}],"encoding":{"x":{"field":"tool","type":"nominal","title":null,"scale":{"domain":["Beagle4.1","Beagle5.1","IMPUTE2","IMPUTE4","minimac3","minimac4","PBWT"],"paddingInner":0.07,"paddingOuter":0.31},"axis":{"labels":false,"ticks":false,"grid":true,"bandPosition":0.5}}},"layer":[
{"mark":{"type":"rule","color":"#333333","strokeWidth":1.4},"encoding":{"y":{"field":"lo","type":"quantitative","scale":{"domain":[-0.105,1.105],"nice":false},"axis":{"values":[0,0.125,0.25,0.375,0.5,0.625,0.75,0.875,1],"tickCount":20,"labels":false,"ticks":false,"title":null,"gridColor":{"condition":{"test":"datum.value*8%2==0","value":"#E0E0E6"},"value":"#ECECF1"}}},"y2":{"field":"hi"}}},
{"mark":{"type":"bar","stroke":"#333333","strokeWidth":1.8},"encoding":{"y":{"field":"q1","type":"quantitative","scale":{"domain":[-0.105,1.105],"nice":false}},"y2":{"field":"q3"},"color":{"field":"tool","type":"nominal","scale":{"domain":["Beagle4.1","Beagle5.1","IMPUTE2","IMPUTE4","minimac3","minimac4","PBWT"],"range":["#4169E1","#00BFFF","#00C5B0","#ABABAB","#FFB0BE","#F06A50","#8B4513"]},"legend":null}}},
{"mark":{"type":"bar","fillOpacity":0,"stroke":"#333333","strokeWidth":2.8},"encoding":{"y":{"field":"med","type":"quantitative","scale":{"domain":[-0.105,1.105],"nice":false}},"y2":{"field":"med"}}},
{"mark":{"type":"circle","color":"#333333","opacity":1,"size":26},"encoding":{"y":{"field":"out","type":"quantitative","scale":{"domain":[-0.105,1.105],"nice":false}}}}
]},
{"width":122.5,"height":129,"transform":[{"filter":"datum.phasing=='SHAPEIT2'&&datum.metric=='IMPUTE Info'"}],"encoding":{"x":{"field":"tool","type":"nominal","title":null,"scale":{"domain":["Beagle4.1","Beagle5.1","IMPUTE2","IMPUTE4","minimac3","minimac4","PBWT"],"paddingInner":0.07,"paddingOuter":0.31},"axis":{"labels":false,"ticks":false,"grid":true,"bandPosition":0.5}}},"layer":[
{"mark":{"type":"rule","color":"#333333","strokeWidth":1.4},"encoding":{"y":{"field":"lo","type":"quantitative","scale":{"domain":[-0.105,1.105],"nice":false},"axis":{"values":[0,0.125,0.25,0.375,0.5,0.625,0.75,0.875,1],"tickCount":20,"labels":false,"ticks":false,"title":null,"gridColor":{"condition":{"test":"datum.value*8%2==0","value":"#E0E0E6"},"value":"#ECECF1"}}},"y2":{"field":"hi"}}},
{"mark":{"type":"bar","stroke":"#333333","strokeWidth":1.8},"encoding":{"y":{"field":"q1","type":"quantitative","scale":{"domain":[-0.105,1.105],"nice":false}},"y2":{"field":"q3"},"color":{"field":"tool","type":"nominal","scale":{"domain":["Beagle4.1","Beagle5.1","IMPUTE2","IMPUTE4","minimac3","minimac4","PBWT"],"range":["#4169E1","#00BFFF","#00C5B0","#ABABAB","#FFB0BE","#F06A50","#8B4513"]},"legend":null}}},
{"mark":{"type":"bar","fillOpacity":0,"stroke":"#333333","strokeWidth":2.8},"encoding":{"y":{"field":"med","type":"quantitative","scale":{"domain":[-0.105,1.105],"nice":false}},"y2":{"field":"med"}}},
{"mark":{"type":"circle","color":"#333333","opacity":1,"size":26},"encoding":{"y":{"field":"out","type":"quantitative","scale":{"domain":[-0.105,1.105],"nice":false}}}}
]},
{"width":122.5,"height":129,"transform":[{"filter":"datum.phasing=='SHAPEIT2*'&&datum.metric=='IMPUTE Info'"}],"encoding":{"x":{"field":"tool","type":"nominal","title":null,"scale":{"domain":["Beagle4.1","Beagle5.1","IMPUTE2","IMPUTE4","minimac3","minimac4","PBWT"],"paddingInner":0.07,"paddingOuter":0.31},"axis":{"labels":false,"ticks":false,"grid":true,"bandPosition":0.5}}},"layer":[
{"mark":{"type":"rule","color":"#333333","strokeWidth":1.4},"encoding":{"y":{"field":"lo","type":"quantitative","scale":{"domain":[-0.105,1.105],"nice":false},"axis":{"values":[0,0.125,0.25,0.375,0.5,0.625,0.75,0.875,1],"tickCount":20,"labels":false,"ticks":false,"title":null,"gridColor":{"condition":{"test":"datum.value*8%2==0","value":"#E0E0E6"},"value":"#ECECF1"}}},"y2":{"field":"hi"}}},
{"mark":{"type":"bar","stroke":"#333333","strokeWidth":1.8},"encoding":{"y":{"field":"q1","type":"quantitative","scale":{"domain":[-0.105,1.105],"nice":false}},"y2":{"field":"q3"},"color":{"field":"tool","type":"nominal","scale":{"domain":["Beagle4.1","Beagle5.1","IMPUTE2","IMPUTE4","minimac3","minimac4","PBWT"],"range":["#4169E1","#00BFFF","#00C5B0","#ABABAB","#FFB0BE","#F06A50","#8B4513"]},"legend":null}}},
{"mark":{"type":"bar","fillOpacity":0,"stroke":"#333333","strokeWidth":2.8},"encoding":{"y":{"field":"med","type":"quantitative","scale":{"domain":[-0.105,1.105],"nice":false}},"y2":{"field":"med"}}},
{"mark":{"type":"circle","color":"#333333","opacity":1,"size":26},"encoding":{"y":{"field":"out","type":"quantitative","scale":{"domain":[-0.105,1.105],"nice":false}}}}
]}
]}
]},
{"spacing":7.5,"vconcat":[
{"width":22,"height":129,"view":{"fill":"#D9D9D9","stroke":null},"data":{"values":[{"label":"Beagle R²"}]},"mark":{"type":"text","angle":90,"font":"Liberation Sans","fontSize":11,"color":"#1A1A1A"},"encoding":{"text":{"field":"label"}}},
{"width":22,"height":129,"view":{"fill":"#D9D9D9","stroke":null},"data":{"values":[{"label":"MaCH R²"}]},"mark":{"type":"text","angle":90,"font":"Liberation Sans","fontSize":11,"color":"#1A1A1A"},"encoding":{"text":{"field":"label"}}},
{"width":22,"height":129,"view":{"fill":"#D9D9D9","stroke":null},"data":{"values":[{"label":"IMPUTE Info"}]},"mark":{"type":"text","angle":90,"font":"Liberation Sans","fontSize":11,"color":"#1A1A1A"},"encoding":{"text":{"field":"label"}}}
]}
]}
],
"config":{
"font":"Liberation Sans",
"view":{"stroke":null,"fill":"#F6F6FA"},
"mark":{"invalid":"filter"},
"axis":{"domain":false,"labelFont":"Liberation Sans","labelFontSize":11,"labelColor":"#4D4D4D","tickColor":"#333333","tickSize":3.5,"tickWidth":1,"labelPadding":2,"titleFont":"Liberation Sans","titleFontSize":13.5,"titleFontWeight":"normal","titleColor":"#000000","titlePadding":4.5,"gridWidth":0.9,"gridColor":"#E0E0E6"},
"legend":{"symbolType":"M-1,-0.65H1V0.65H-1Z M-1,0H1 M0,-0.65V-1 M0,0.65V1","symbolSize":289,"symbolStrokeColor":"#333333","symbolStrokeWidth":1.3,"symbolOpacity":1,"labelFont":"Liberation Sans","labelFontSize":11,"labelColor":"#1A1A1A","rowPadding":1,"columnPadding":10,"labelOffset":8}
}
}
